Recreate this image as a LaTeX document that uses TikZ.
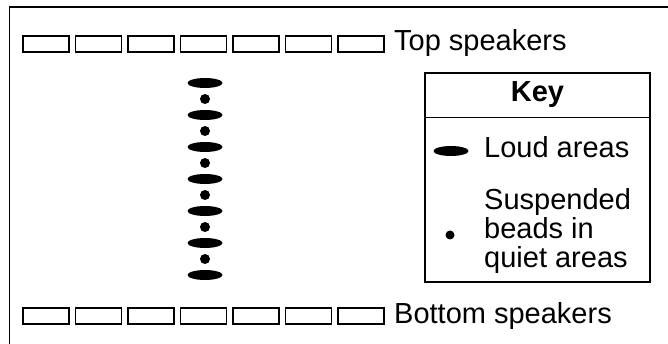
\documentclass[tikz,border=0pt]{standalone}
\usepackage{fontspec}
\setmainfont{Liberation Sans}
\usetikzlibrary{shapes.geometric}
\begin{document}
\begin{tikzpicture}[x=1pt,y=-1pt,
  speaker/.style={draw, line width=1.1pt, minimum width=46pt, minimum height=16pt, inner sep=0pt},
  loud/.style={fill=black, ellipse, minimum width=35pt, minimum height=10pt, inner sep=0pt},
  bead/.style={fill=black, circle, inner sep=0pt, minimum width=10pt, minimum height=10pt},
  label/.style={font=\fontsize{29}{29}\selectfont, inner sep=0pt, anchor=base west},
  frame/.style={line width=1.5pt}]
\useasboundingbox (0,0) rectangle (668,344);

% open frame along the top and left sides
\coordinate (fbl) at (9.5,344);
\coordinate (ftl) at (9.5,7);
\coordinate (ftr) at (668,7);
\draw[frame] (fbl) -- (ftl) -- (ftr);

% speaker rows
\foreach \i in {0,...,6} {
  \node[speaker] (top\i) at ({46+52.5*\i},44) {};
  \node[speaker] (bot\i) at ({46+52.5*\i},316) {};
}
\node[label] (toplbl) at (394,51) {Top speakers};
\node[label] (botlbl) at (394,323) {Bottom speakers};

% standing-wave pattern: loud areas with suspended beads between them
\foreach \i in {0,...,6} {
  \node[loud] (loud\i) at (205,{83+32*\i}) {};
}
\foreach \i in {0,...,5} {
  \node[bead] (bead\i) at (205,{99+32*\i}) {};
}

% key
\draw[line width=1.2pt] (425,73) rectangle (650,282);
\draw[line width=1pt] (425,118) -- (650,118);
\node[font=\fontsize{29}{29}\selectfont\bfseries, inner sep=0pt, anchor=base] (keytitle) at (537.5,102) {Key};
\node[loud] (keyloud) at (451,151) {};
\node[label] (keyloudlbl) at (484,158) {Loud areas};
\node[bead, minimum width=9pt, minimum height=9pt] (keybead) at (450,235) {};
\node[label, align=left] (keybeadlbl) at (484,268) {Suspended\\beads in\\quiet areas};
\end{tikzpicture}
\end{document}
